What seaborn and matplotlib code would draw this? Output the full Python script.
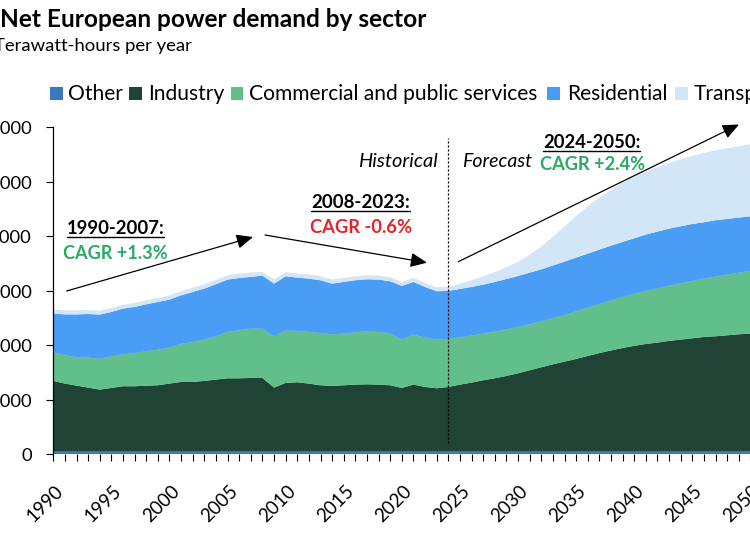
import matplotlib
matplotlib.use("Agg")
import matplotlib.pyplot as plt
from matplotlib.lines import Line2D
from matplotlib.patches import Rectangle
from matplotlib.ticker import FixedLocator
from matplotlib.transforms import ScaledTranslation
import pandas as pd
import seaborn as sns
import seaborn.objects as so

# ---------------- data (TWh per year) ----------------
years = list(range(1990, 2051))

other = [60, 60, 60, 60, 60, 60, 60, 60, 60, 60, 60, 60, 60, 60, 60, 60, 60, 60,
         60, 60, 60, 60, 60, 60, 60, 60, 60, 60, 60, 60, 60, 60, 60, 60,
         60, 60, 60, 60, 60, 60, 60, 60, 60, 60, 60, 60, 60, 60, 60, 60, 60, 60, 60,
         60, 60, 60, 60, 60, 60, 60, 60]

industry = [1286, 1237, 1200, 1163, 1126, 1157, 1188, 1188, 1200, 1206, 1237, 1267, 1267, 1286, 1310, 1334, 1334, 1341,
            1340, 1163, 1249, 1261, 1237, 1206, 1194, 1206, 1218, 1224, 1218, 1206, 1157, 1218, 1175, 1151,
            1175, 1218, 1255, 1298, 1334, 1377, 1426, 1481, 1536, 1591, 1640, 1689, 1744, 1796, 1845, 1890,
            1930, 1964, 1989, 2020, 2044, 2068, 2093, 2105, 2123, 2142, 2154]

commercial = [519, 520, 526, 551, 569, 581, 587, 611, 630, 654, 660, 700, 735, 760, 795, 851, 881, 905,
              906, 942, 966, 942, 948, 960, 948, 948, 961, 973, 967, 948, 893, 918, 906, 893,
              881, 869, 862, 856, 857, 857, 850, 844, 844, 844, 857, 875, 887, 902, 915, 937,
              958, 973, 997, 1015, 1034, 1052, 1070, 1095, 1113, 1131, 1150]

residential = [716, 750, 780, 800, 808, 814, 838, 844, 862, 875, 881, 890, 916, 934, 955, 960, 960, 948,
               972, 966, 991, 978, 977, 967, 929, 948, 954, 954, 960, 960, 979, 966, 929, 887,
               881, 887, 893, 899, 911, 923, 936, 948, 954, 967, 978, 985, 991, 997, 1009, 1009,
               1015, 1034, 1040, 1046, 1045, 1046, 1034, 1034, 1022, 1010, 1003]

transport = [74, 72, 71, 71, 70, 71, 72, 72, 73, 75, 76, 77, 78, 78, 79, 80, 80, 80,
             67, 74, 73, 74, 75, 73, 74, 73, 73, 73, 73, 73, 73, 73, 73, 73,
             73, 97, 122, 150, 180, 214, 258, 327, 416, 528, 645, 761, 868, 955, 1021, 1083,
             1126, 1156, 1180, 1205, 1230, 1248, 1272, 1284, 1297, 1308, 1321]

sectors = ["Other", "Industry", "Commercial and public services", "Residential", "Transport"]
colors = ["#3B78C2", "#1F4435", "#62BE8A", "#4A9DF4", "#D3E6F8"]

y_ticks = [0, 1000, 2000, 3000, 4000, 5000, 6000]
x_ticks = [1990, 1995, 2000, 2005, 2010, 2015, 2020, 2025, 2030, 2035, 2040, 2045, 2050]

title = "Net European power demand by sector"
subtitle = "Terawatt-hours per year"
periods = ["1990-2007:", "2008-2023:", "2024-2050:"]
cagrs = ["CAGR +1.3%", "CAGR -0.6%", "CAGR +2.4%"]
forecast_start = 2024

GREEN = "#2BAA63"
RED = "#E3242B"

# ---------------- figure ----------------
sns.set_theme(style="white")
FONT = "Lato"
plt.rcParams["font.family"] = [FONT, "DejaVu Sans"]

W, H = 750, 536
fig = plt.figure(figsize=(W / 100, H / 100), dpi=100)
fig.patch.set_facecolor("white")


def fx(x):
    return x / W


def fy(y):
    return 1 - y / H


ax = fig.add_axes([fx(53.3), fy(454.3), (750.4 - 53.3) / W, (454.3 - 127.3) / H])

df = pd.DataFrame({
    "year": years * len(sectors),
    "sector": [s for s in sectors for _ in years],
    "twh": other + industry + commercial + residential + transport,
})
df["sector"] = pd.Categorical(df["sector"], categories=sectors, ordered=True)

(
    so.Plot(df, x="year", y="twh", color="sector")
    .add(so.Area(alpha=1, edgewidth=0.4), so.Stack(), legend=False)
    .scale(color=so.Nominal(dict(zip(sectors, colors)), order=sectors))
    .theme(sns.axes_style("white"))
    .on(ax)
    .plot()
)

plt.rcParams["font.family"] = [FONT, "DejaVu Sans"]

ax.set_xlim(1990, 2050)
ax.set_ylim(0, 6000)
ax.set_xlabel("")
ax.set_ylabel("")
ax.grid(False)
ax.set_facecolor("white")
for s in ["top", "right", "bottom"]:
    ax.spines[s].set_visible(False)
ax.spines["left"].set_color("black")
ax.spines["left"].set_linewidth(0.9)

ax.xaxis.set_major_locator(FixedLocator(x_ticks))
ax.xaxis.set_minor_locator(FixedLocator(years))
ax.set_xticks(x_ticks, labels=[str(t) for t in x_ticks])
ax.set_yticks(y_ticks, labels=[f"{v:,}" for v in y_ticks])

ax.tick_params(axis="x", which="both", direction="out", length=4.8, width=0.8,
               color="black", bottom=True, labelsize=13.5, pad=19.5,
               labelcolor="black")
ax.tick_params(axis="y", direction="out", length=4.7, width=0.8, color="black",
               left=True, labelsize=13.2, pad=10.8, labelcolor="black")
shift = ScaledTranslation(7 / 100, 0, fig.dpi_scale_trans)
for lab in ax.get_xticklabels():
    lab.set_rotation(45)
    lab.set_ha("right")
    lab.set_va("center")
    lab.set_rotation_mode("anchor")
    lab.set_family([FONT, "DejaVu Sans"])
    lab.set_transform(lab.get_transform() + shift)
for lab in ax.get_yticklabels():
    lab.set_family([FONT, "DejaVu Sans"])

# historical / forecast divider
ax.axvline(forecast_start, ymin=0.0355, ymax=0.966, color="black", lw=0.9,
           ls=(0, (1.6, 1.6)), zorder=5)

# ---------------- texts ----------------
texts = []


def add_text(x, y, s, ha="left", color="black", weight="normal", style="normal",
             width=None, size=13, underline=False):
    t = fig.text(fx(x), fy(y), s, ha=ha, va="baseline", color=color,
                 fontweight=weight, fontstyle=style, fontsize=size,
                 family=[FONT, "DejaVu Sans"])
    texts.append((t, width, underline, y))
    return t


add_text(0, 26.7, title, weight="bold", width=427, size=17)
add_text(192, 51.5, subtitle, ha="right", width=197, size=12)

# legend
leg_marker_x = [50, 129, 230.7, 547.3, 675]
leg_text_x = [68.3, 147.7, 249.3, 566.7, 693.3]
leg_texts = []
for mx, tx, lab, col in zip(leg_marker_x, leg_text_x, sectors, colors):
    fig.patches.append(Rectangle((fx(mx), fy(99.8)), 12.5 / W, 12.5 / H,
                                 transform=fig.transFigure, facecolor=col,
                                 edgecolor="none"))
    leg_texts.append(add_text(tx, 100.5, lab, size=14))

add_text(115.5, 234, periods[0], ha="center", weight="bold", width=97.6, underline=True)
add_text(115.2, 259, cagrs[0], ha="center", weight="bold", color=GREEN, width=105)
add_text(360.8, 208.3, periods[1], ha="center", weight="bold", width=98.3, underline=True)
add_text(360.8, 233.3, cagrs[1], ha="center", weight="bold", color=RED, width=101.7)
add_text(591.7, 148.3, periods[2], ha="center", weight="bold", width=96.7, underline=True)
add_text(592.5, 170.5, cagrs[2], ha="center", weight="bold", color=GREEN, width=105)
add_text(437.3, 166.7, "Historical", ha="right", style="italic", width=79)
add_text(461.7, 166.7, "Forecast", style="italic", width=70)

fig.canvas.draw()
rend = fig.canvas.get_renderer()
for t, width, _, _ in texts:
    if width:
        w = t.get_window_extent(rend).width
        t.set_fontsize(t.get_fontsize() * width / w)

# legend font: fit the long entry, share size
w = leg_texts[2].get_window_extent(rend).width
leg_fs = leg_texts[2].get_fontsize() * 290 / w
for t in leg_texts:
    t.set_fontsize(leg_fs)

fig.canvas.draw()
for t, width, underline, y in texts:
    if underline:
        bb = t.get_window_extent(rend)
        fig.add_artist(Line2D([bb.x0 / W, bb.x1 / W], [fy(y + 2.8)] * 2,
                              transform=fig.transFigure, color="black", lw=1.0))

# arrows (figure pixel coords, origin top-left -> convert)
arrows = [((66.7, 291), (253, 237)),
          ((265, 235), (427, 262.7)),
          ((458.3, 261.7), (739, 124.5))]
for (x0, y0), (x1, y1) in arrows:
    ax.annotate("", xy=(x1, H - y1), xytext=(x0, H - y0),
                xycoords="figure pixels", textcoords="figure pixels",
                arrowprops=dict(arrowstyle="-|>,head_length=0.5,head_width=0.22",
                                color="black", lw=0.9, mutation_scale=20,
                                shrinkA=0, shrinkB=0),
                annotation_clip=False, zorder=6)

fig.savefig("out.png", dpi=100)
